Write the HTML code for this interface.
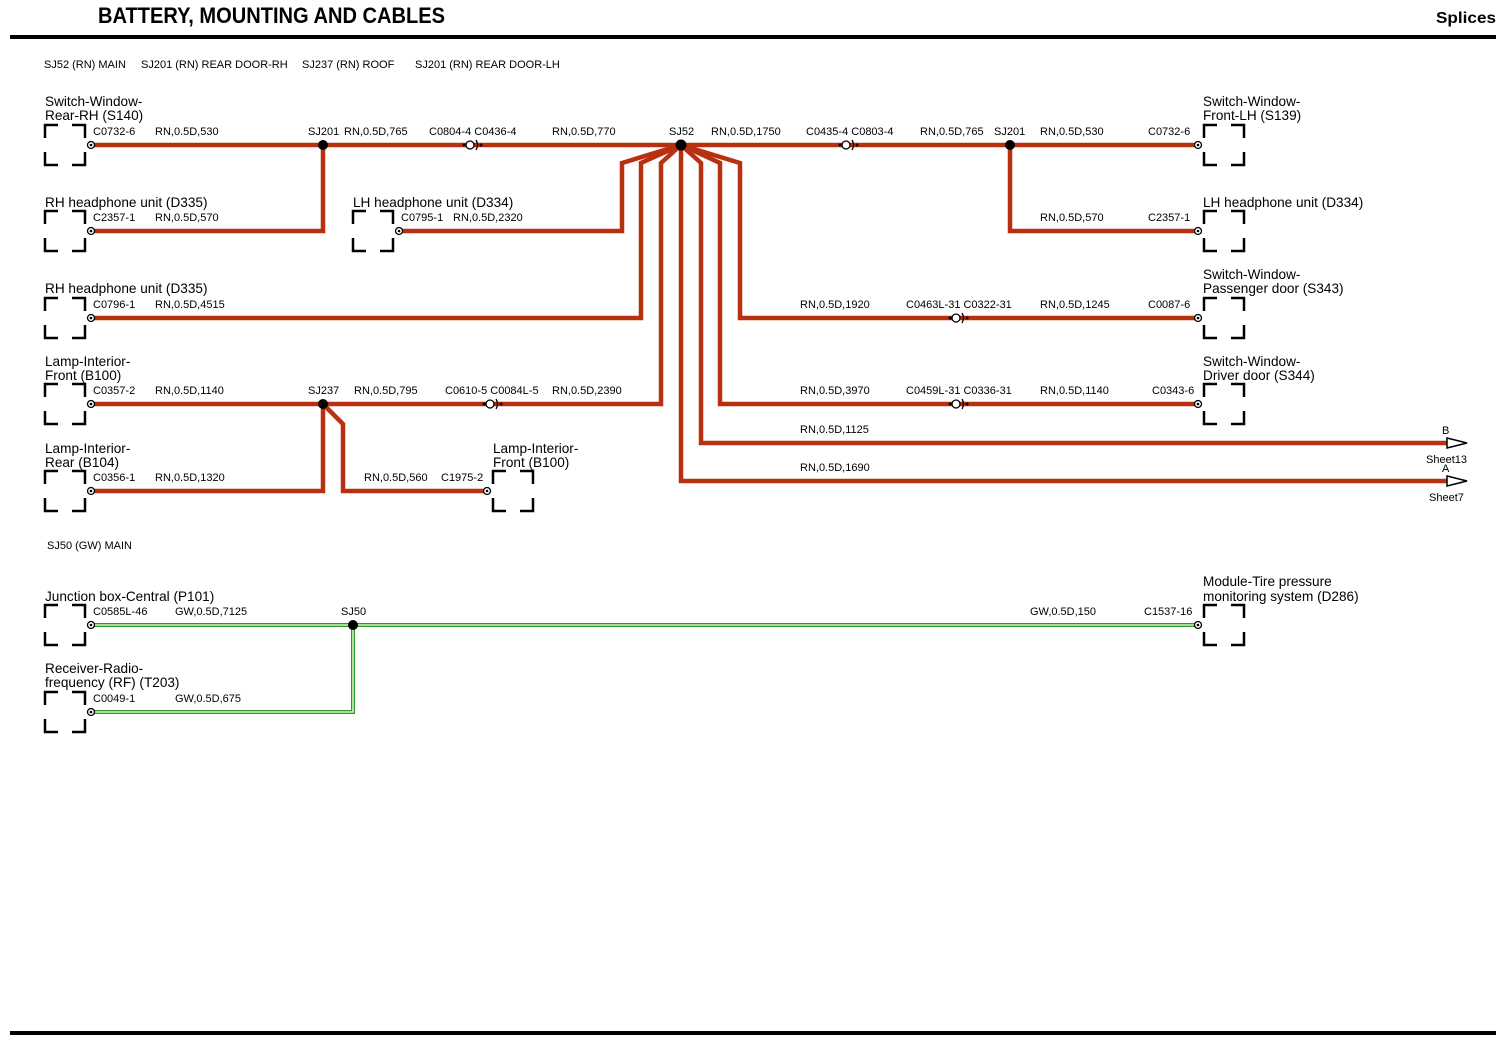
<!DOCTYPE html>
<html><head><meta charset="utf-8"><style>
html,body{margin:0;padding:0;background:#fff}
svg{display:block}
text{font-family:"Liberation Sans",Arial,sans-serif;fill:#000}
.s{font-size:11px}
.t{font-size:13.6px}
</style></head><body>
<svg width="1502" height="1041" viewBox="0 0 1502 1041" xmlns="http://www.w3.org/2000/svg">
<defs>
<path id="bx" d="M0,13V0H13M27,0H40V13M0,27V40H13M27,40H40V27" fill="none" stroke="#000" stroke-width="2.5"/>
<g id="pin"><circle r="3.5" fill="#fff" stroke="#000" stroke-width="1.3"/><circle r="1.3" fill="#000"/></g>
<g id="inl"><circle cx="-3" r="4" fill="#fff" stroke="#000" stroke-width="1.3"/><path d="M3,-5Q6,0 3,5" fill="none" stroke="#000" stroke-width="1.3"/><circle cx="-9" r="1.5"/><circle cx="8" r="1.5"/></g>
</defs>
<text x="98" y="23" style="font-size:22px;font-weight:bold" textLength="347" lengthAdjust="spacingAndGlyphs">BATTERY, MOUNTING AND CABLES</text>
<text x="1436" y="23" style="font-size:16px;font-weight:bold" textLength="60" lengthAdjust="spacingAndGlyphs">Splices</text>
<rect x="10" y="35" width="1486" height="4" fill="#000"/>
<rect x="10" y="1031" width="1486" height="4" fill="#000"/>
<text class="s" x="44" y="68">SJ52 (RN) MAIN</text>
<text class="s" x="141" y="68">SJ201 (RN) REAR DOOR-RH</text>
<text class="s" x="302" y="68">SJ237 (RN) ROOF</text>
<text class="s" x="415" y="68">SJ201 (RN) REAR DOOR-LH</text>
<text class="s" x="47" y="549">SJ50 (GW) MAIN</text>

<g fill="none" stroke="#b8300f" stroke-width="4.5" stroke-linejoin="miter">
<path d="M90,145H1198"/>
<path d="M323,145V231H90"/>
<path d="M1010,145V231H1198"/>
<path d="M681,145L622,163V231H397"/>
<path d="M681,145L641,163V318H90"/>
<path d="M681,145L661,163V404H90"/>
<path d="M681,145V481H1460"/>
<path d="M681,145L701,163V443H1460"/>
<path d="M681,145L720,163V404H1198"/>
<path d="M681,145L740,163V318H1198"/>
<path d="M323,404L343,424V491H487"/>
<path d="M323,404V491H90"/>
</g>
<g fill="none">
<path d="M90,625H1198M353,625V712H90" stroke="#2a9a1a" stroke-width="4"/>
<path d="M90,625H1198M353,625V712H90" stroke="#fff" stroke-width="1.3"/>
</g>
<g fill="#000">
<circle cx="323" cy="145" r="5"/><circle cx="681" cy="145" r="5.5"/><circle cx="1010" cy="145" r="5"/>
<circle cx="323" cy="404" r="5"/><circle cx="353" cy="625" r="5"/>
</g>
<g fill="#000">
<use href="#inl" x="473" y="145"/><use href="#inl" x="849" y="145"/>
<use href="#inl" x="493" y="404"/><use href="#inl" x="959" y="318"/><use href="#inl" x="959" y="404"/>
</g>
<g>
<use href="#pin" x="91" y="145"/><use href="#pin" x="91" y="231"/><use href="#pin" x="91" y="318"/><use href="#pin" x="91" y="404"/><use href="#pin" x="91" y="491"/>
<use href="#pin" x="399" y="231"/><use href="#pin" x="487" y="491"/>
<use href="#pin" x="1198" y="145"/><use href="#pin" x="1198" y="231"/><use href="#pin" x="1198" y="318"/><use href="#pin" x="1198" y="404"/>
<use href="#pin" x="91" y="625"/><use href="#pin" x="91" y="712"/><use href="#pin" x="1198" y="625"/>
</g>
<g>
<use href="#bx" x="45" y="125"/><use href="#bx" x="45" y="211"/><use href="#bx" x="45" y="298"/><use href="#bx" x="45" y="384"/><use href="#bx" x="45" y="471"/>
<use href="#bx" x="353" y="211"/><use href="#bx" x="493" y="471"/>
<use href="#bx" x="1204" y="125"/><use href="#bx" x="1204" y="211"/><use href="#bx" x="1204" y="298"/><use href="#bx" x="1204" y="384"/>
<use href="#bx" x="45" y="605"/><use href="#bx" x="45" y="692"/><use href="#bx" x="1204" y="605"/>
</g>
<g fill="#fff" stroke="#000" stroke-width="1.5">
<path d="M1447,438L1467,443L1447,448Z"/><path d="M1447,476L1467,481L1447,486Z"/>
</g>
<g>
<text x="1442" y="434" class="s">B</text><text x="1426" y="463" class="s">Sheet13</text>
<text x="1442" y="472" class="s">A</text><text x="1429" y="501" class="s">Sheet7</text>
</g>
<g>
<text x="45" y="106" class="t">Switch-Window-</text><text x="45" y="120" class="t">Rear-RH (S140)</text>
<text x="45" y="207" class="t">RH headphone unit (D335)</text>
<text x="353" y="207" class="t">LH headphone unit (D334)</text>
<text x="45" y="293" class="t">RH headphone unit (D335)</text>
<text x="45" y="366" class="t">Lamp-Interior-</text><text x="45" y="380" class="t">Front (B100)</text>
<text x="45" y="453" class="t">Lamp-Interior-</text><text x="45" y="467" class="t">Rear (B104)</text>
<text x="493" y="453" class="t">Lamp-Interior-</text><text x="493" y="467" class="t">Front (B100)</text>
<text x="1203" y="106" class="t">Switch-Window-</text><text x="1203" y="120" class="t">Front-LH (S139)</text>
<text x="1203" y="207" class="t">LH headphone unit (D334)</text>
<text x="1203" y="279" class="t">Switch-Window-</text><text x="1203" y="293" class="t">Passenger door (S343)</text>
<text x="1203" y="366" class="t">Switch-Window-</text><text x="1203" y="380" class="t">Driver door (S344)</text>
<text x="45" y="601" class="t">Junction box-Central (P101)</text>
<text x="45" y="673" class="t">Receiver-Radio-</text><text x="45" y="687" class="t">frequency (RF) (T203)</text>
<text x="1203" y="586" class="t">Module-Tire pressure</text><text x="1203" y="601" class="t">monitoring system (D286)</text>
</g>
<g>
<text class="s" x="93" y="135">C0732-6</text><text class="s" x="155" y="135">RN,0.5D,530</text>
<text class="s" x="308" y="135">SJ201</text><text class="s" x="344" y="135">RN,0.5D,765</text>
<text class="s" x="429" y="135">C0804-4 C0436-4</text><text class="s" x="552" y="135">RN,0.5D,770</text>
<text class="s" x="669" y="135">SJ52</text><text class="s" x="711" y="135">RN,0.5D,1750</text>
<text class="s" x="806" y="135">C0435-4 C0803-4</text><text class="s" x="920" y="135">RN,0.5D,765</text>
<text class="s" x="994" y="135">SJ201</text><text class="s" x="1040" y="135">RN,0.5D,530</text><text class="s" x="1148" y="135">C0732-6</text>
<text class="s" x="93" y="221">C2357-1</text><text class="s" x="155" y="221">RN,0.5D,570</text>
<text class="s" x="401" y="221">C0795-1</text><text class="s" x="453" y="221">RN,0.5D,2320</text>
<text class="s" x="1040" y="221">RN,0.5D,570</text><text class="s" x="1148" y="221">C2357-1</text>
<text class="s" x="93" y="308">C0796-1</text><text class="s" x="155" y="308">RN,0.5D,4515</text>
<text class="s" x="800" y="308">RN,0.5D,1920</text><text class="s" x="906" y="308">C0463L-31 C0322-31</text>
<text class="s" x="1040" y="308">RN,0.5D,1245</text><text class="s" x="1148" y="308">C0087-6</text>
<text class="s" x="93" y="394">C0357-2</text><text class="s" x="155" y="394">RN,0.5D,1140</text>
<text class="s" x="308" y="394">SJ237</text><text class="s" x="354" y="394">RN,0.5D,795</text>
<text class="s" x="445" y="394">C0610-5 C0084L-5</text><text class="s" x="552" y="394">RN,0.5D,2390</text>
<text class="s" x="800" y="394">RN,0.5D,3970</text><text class="s" x="906" y="394">C0459L-31 C0336-31</text>
<text class="s" x="1040" y="394">RN,0.5D,1140</text><text class="s" x="1152" y="394">C0343-6</text>
<text class="s" x="800" y="433">RN,0.5D,1125</text>
<text class="s" x="800" y="471">RN,0.5D,1690</text>
<text class="s" x="93" y="481">C0356-1</text><text class="s" x="155" y="481">RN,0.5D,1320</text>
<text class="s" x="364" y="481">RN,0.5D,560</text><text class="s" x="441" y="481">C1975-2</text>
<text class="s" x="93" y="615">C0585L-46</text><text class="s" x="175" y="615">GW,0.5D,7125</text>
<text class="s" x="341" y="615">SJ50</text>
<text class="s" x="1030" y="615">GW,0.5D,150</text><text class="s" x="1144" y="615">C1537-16</text>
<text class="s" x="93" y="702">C0049-1</text><text class="s" x="175" y="702">GW,0.5D,675</text>
</g>
</svg>
</body></html>
